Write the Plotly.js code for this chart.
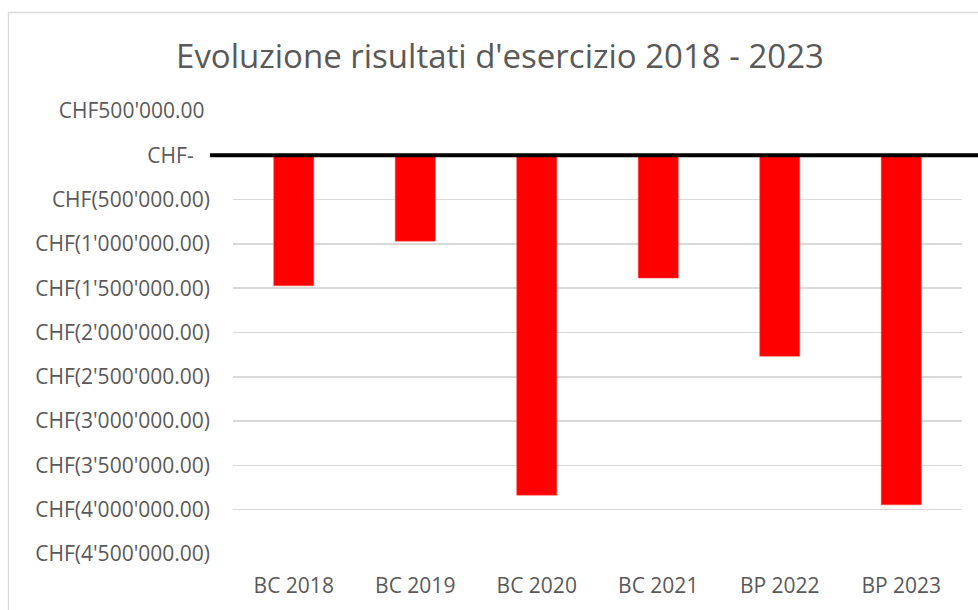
<!DOCTYPE html>
<html>
<head>
<meta charset="utf-8">
<script src="https://cdn.plot.ly/plotly-3.0.1.min.js"></script>
<style>html,body{margin:0;padding:0;background:#fff;}#chart{width:978px;height:610px;}</style>
</head>
<body>
<div id="chart"></div>
<script>
// ---- data ----
const categories = ["BC 2018", "BC 2019", "BC 2020", "BC 2021", "BP 2022", "BP 2023"];
const results = [-1473000, -969000, -3836000, -1386000, -2269000, -3945000];
const yTickVals = [500000, 0, -500000, -1000000, -1500000, -2000000, -2500000, -3000000, -3500000, -4000000, -4500000];
const yTickText = ["CHF500'000.00\u00a0", "CHF-\u00a0\u00a0\u00a0", "CHF(500'000.00)", "CHF(1'000'000.00)", "CHF(1'500'000.00)", "CHF(2'000'000.00)", "CHF(2'500'000.00)", "CHF(3'000'000.00)", "CHF(3'500'000.00)", "CHF(4'000'000.00)", "CHF(4'500'000.00)"];
const chartTitle = "Evoluzione risultati d'esercizio 2018 - 2023";

// ---- layout geometry ----
const W = 978, H = 610;
const mL = 233, mR = 16, mT = 111, mB = 56;
const pw = W - mL - mR, ph = H - mT - mB;
const px = x => (x - mL) / pw;
const py = y => (H - mB - y) / ph;

const fontFam = "'Open Sans', 'Noto Sans', sans-serif";
const textCol = "#595959";

const trace = {
  type: "bar",
  x: categories,
  y: results,
  marker: {color: "#ff0000", line: {color: "#ff5050", width: 0.5}},
  width: 0.33,
  hoverinfo: "none"
};

const layout = {
  width: W, height: H,
  margin: {l: mL, r: mR, t: mT, b: mB, pad: 0},
  paper_bgcolor: "#ffffff",
  plot_bgcolor: "#ffffff",
  showlegend: false,
  title: {
    text: chartTitle,
    font: {family: fontFam, size: 33, color: textCol},
    xref: "container", x: 500 / W, xanchor: "center",
    yref: "container", y: 1 - 56 / H, yanchor: "middle"
  },
  xaxis: {
    type: "category",
    showgrid: false, zeroline: false, showline: false, ticks: "",
    tickfont: {family: fontFam, size: 21, color: textCol},
    ticklabelstandoff: 17,
    fixedrange: true
  },
  yaxis: {
    range: [-4500000, 500000],
    tickmode: "array", tickvals: yTickVals, ticktext: yTickText,
    showgrid: true, gridcolor: "#d9d9d9", gridwidth: 1.5,
    zeroline: false, showline: false, ticks: "",
    tickfont: {family: fontFam, size: 21, color: textCol},
    ticklabelstandoff: 22,
    fixedrange: true
  },
  shapes: [
    {type: "rect", xref: "paper", yref: "paper",
     x0: px(8.5), x1: px(1100), y0: py(12.5), y1: py(700),
     line: {color: "#d9d9d9", width: 1.3}, fillcolor: "rgba(0,0,0,0)", layer: "below"},
    {type: "line", xref: "paper", yref: "y",
     x0: px(210), x1: px(1000), y0: 0, y1: 0,
     line: {color: "#000000", width: 4}, layer: "above"}
  ]
};

Plotly.newPlot("chart", [trace], layout, {staticPlot: true, displayModeBar: false});
</script>
</body>
</html>
